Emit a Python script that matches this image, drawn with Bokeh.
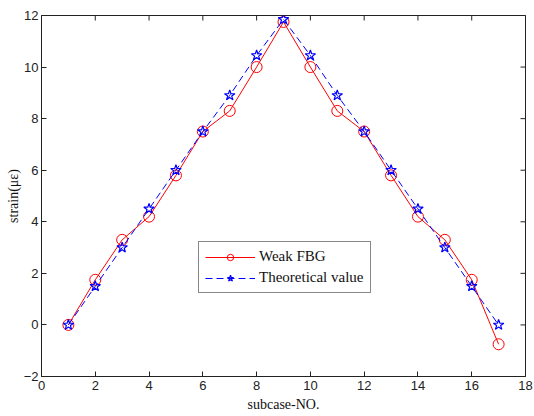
import math
from bokeh.plotting import figure
from bokeh.models import Range1d, FixedTicker, Legend, LegendItem
from bokeh.embed import file_html
from bokeh.resources import INLINE

subcase = [1, 2, 3, 4, 5, 6, 7, 8, 9, 10, 11, 12, 13, 14, 15, 16, 17]
weak_fbg = [0, 1.75, 3.3, 4.2, 5.8, 7.5, 8.3, 10.0, 11.75, 10.0, 8.3, 7.5, 5.8, 4.2, 3.3, 1.75, -0.75]
theoretical = [0, 1.5, 3.0, 4.5, 6.0, 7.5, 8.9, 10.45, 11.85, 10.45, 8.9, 7.5, 6.0, 4.5, 3.0, 1.5, 0]
x_ticks = [0, 2, 4, 6, 8, 10, 12, 14, 16, 18]
y_ticks = [-2, 0, 2, 4, 6, 8, 10, 12]
x_min, x_max = 0, 18
y_min, y_max = -2, 12

p = figure(width=534, height=416, output_backend="svg", toolbar_location=None,
           x_range=Range1d(x_min, x_max), y_range=Range1d(y_min, y_max),
           min_border_left=41, min_border_right=9, min_border_top=15, min_border_bottom=40)
p.background_fill_color = "white"
p.border_fill_color = "white"
p.outline_line_color = "#222222"
p.outline_line_width = 1
p.grid.visible = False

for ax in [p.xaxis[0], p.yaxis[0]]:
    ax.major_tick_in = 5
    ax.major_tick_out = 0
    ax.minor_tick_in = 0
    ax.minor_tick_out = 0
    ax.axis_line_color = "#222222"
    ax.major_tick_line_color = "#222222"
    ax.major_label_text_font = "Liberation Sans"
    ax.major_label_text_font_size = "13px"
    ax.major_label_text_color = "#222222"
    ax.axis_label_text_font = "Liberation Serif"
    ax.axis_label_text_font_size = "14px"
    ax.axis_label_text_font_style = "normal"
    ax.axis_label_text_color = "#111111"

p.xaxis[0].ticker = FixedTicker(ticks=x_ticks)
p.yaxis[0].ticker = FixedTicker(ticks=y_ticks)
p.xaxis[0].axis_label = "subcase-NO."
p.yaxis[0].axis_label = "strain(\u03bc\u03b5)"
p.xaxis[0].major_label_standoff = 4
p.xaxis[0].axis_label_standoff = 4
p.yaxis[0].major_label_standoff = 3
p.yaxis[0].axis_label_standoff = 0

# inward ticks on the top and right edges of the box
p.scatter(x_ticks, [y_max] * len(x_ticks), marker="dash", size=10, angle=math.pi / 2,
          line_color="#222222", line_width=1)
p.scatter([x_max] * len(y_ticks), y_ticks, marker="dash", size=10,
          line_color="#222222", line_width=1)

r1 = p.line(subcase, weak_fbg, line_color="red", line_width=1)
r1m = p.scatter(subcase, weak_fbg, marker="circle", size=11, fill_color=None,
                line_color="red", line_width=1)
r2 = p.line(subcase, theoretical, line_color="blue", line_width=1, line_dash="7 4")
r2m = p.scatter(subcase, theoretical, marker="star", size=11, fill_color=None,
                line_color="blue", line_width=1.2)

legend = Legend(items=[LegendItem(label="Weak FBG", renderers=[r1, r1m]),
                       LegendItem(label="Theoretical value", renderers=[r2, r2m])],
                location=(157, 83))
legend.label_text_font = "Liberation Serif"
legend.label_text_font_size = "15px"
legend.label_text_color = "#111111"
legend.border_line_color = "#111111"
legend.border_line_width = 1
legend.background_fill_alpha = 1
legend.glyph_width = 50
legend.glyph_height = 16
legend.label_height = 16
legend.spacing = 4
legend.padding = 6
legend.margin = 0
legend.label_standoff = 4
p.add_layout(legend, "center")

open("out.html", "w").write(file_html(p, INLINE))
